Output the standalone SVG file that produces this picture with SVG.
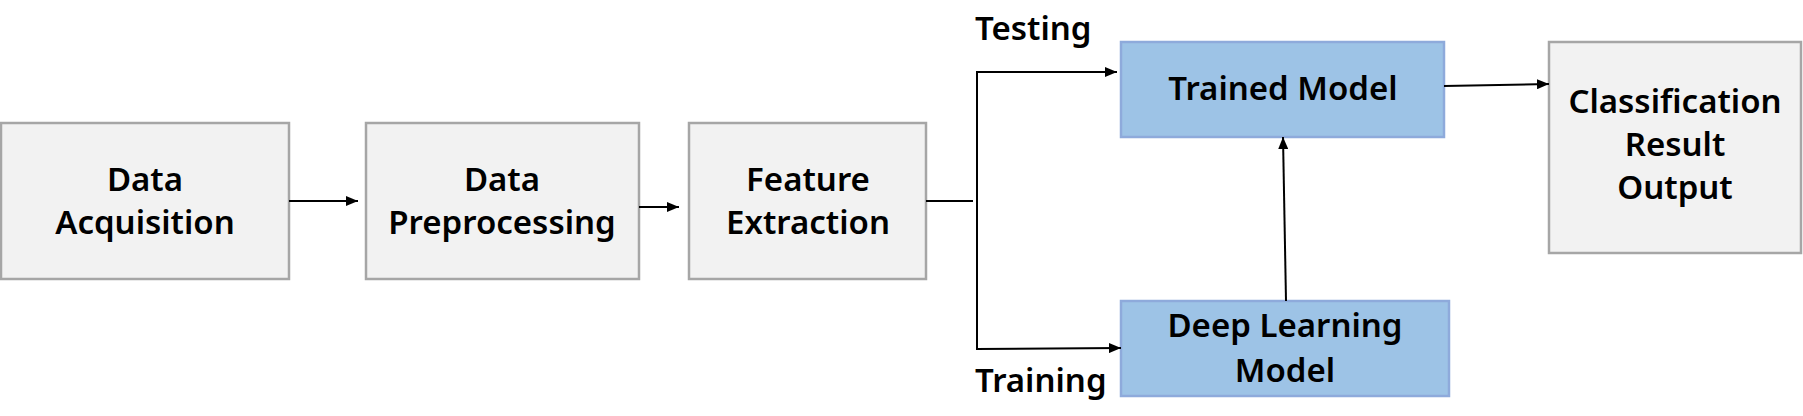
<svg xmlns="http://www.w3.org/2000/svg" width="1803" height="416" viewBox="0 0 1803 416">
<defs>
<marker id="ah" markerWidth="12" markerHeight="10" refX="12" refY="5" orient="auto" markerUnits="userSpaceOnUse">
<path d="M0,0 L12,5 L0,10 Z" fill="#000"/>
</marker>
<style>
.g{fill:#f2f2f2;stroke:#a6a6a6;stroke-width:2.5}
.b{fill:#9dc3e6;stroke:#8eaadb;stroke-width:2.5}
.t{font-family:"Noto Sans","Liberation Sans",sans-serif;font-size:33px;font-weight:600;fill:#000;text-anchor:middle}
.l{font-family:"Noto Sans","Liberation Sans",sans-serif;font-size:33px;font-weight:600;fill:#000}
.c{fill:none;stroke:#000;stroke-width:2}
</style>
</defs>
<rect width="1803" height="416" fill="#fff"/>
<g id="data-acquisition">
<rect class="g" x="1" y="123" width="288" height="156"/>
<text class="t" x="145" y="191">Data</text>
<text class="t" x="145" y="234">Acquisition</text>
</g>
<g id="data-preprocessing">
<rect class="g" x="366" y="123" width="273" height="156"/>
<text class="t" x="502" y="191">Data</text>
<text class="t" x="502" y="234">Preprocessing</text>
</g>
<g id="feature-extraction">
<rect class="g" x="689" y="123" width="237" height="156"/>
<text class="t" x="808" y="191">Feature</text>
<text class="t" x="808" y="234">Extraction</text>
</g>
<g id="trained-model">
<rect class="b" x="1121" y="42" width="323" height="95"/>
<text class="t" x="1283" y="100">Trained Model</text>
</g>
<g id="deep-learning-model">
<rect class="b" x="1121" y="301" width="328" height="95"/>
<text class="t" x="1285" y="337">Deep Learning</text>
<text class="t" x="1285" y="382">Model</text>
</g>
<g id="classification-output">
<rect class="g" x="1549" y="42" width="252" height="211"/>
<text class="t" x="1675" y="113">Classification</text>
<text class="t" x="1675" y="156">Result</text>
<text class="t" x="1675" y="199">Output</text>
</g>
<g id="labels">
<text class="l" x="975" y="40">Testing</text>
<text class="l" x="975" y="392">Training</text>
</g>
<g id="connectors">
<line class="c" x1="289" y1="201" x2="358" y2="201" marker-end="url(#ah)"/>
<line class="c" x1="639" y1="207" x2="679" y2="207" marker-end="url(#ah)"/>
<line class="c" x1="926" y1="201" x2="973" y2="201"/>
<polyline class="c" points="1117,72 977,72 977,349 1121,348" marker-end="url(#ah)"/>
<line class="c" x1="1286" y1="301" x2="1283" y2="137" marker-end="url(#ah)"/>
<line class="c" x1="1444" y1="86" x2="1549" y2="84" marker-end="url(#ah)"/>
<line x1="1116" y1="72" x2="1117" y2="72" stroke="none" marker-end="url(#ah)"/>
</g>
</svg>
